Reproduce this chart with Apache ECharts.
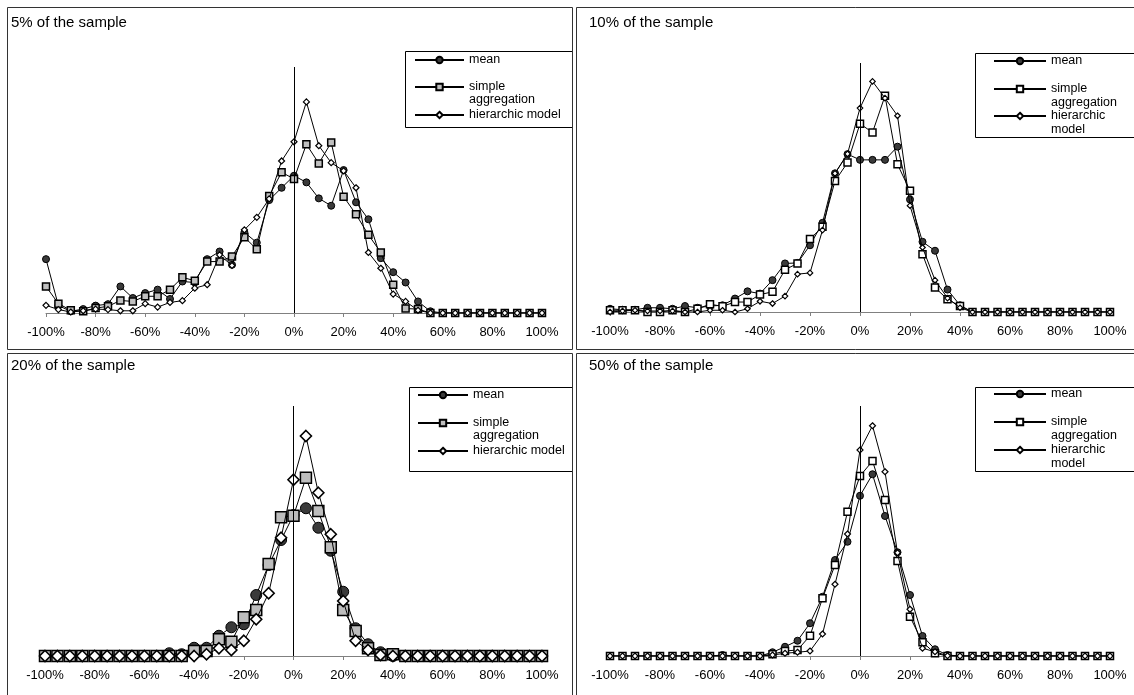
<!DOCTYPE html>
<html>
<head>
<meta charset="utf-8">
<script src="https://cdn.jsdelivr.net/npm/echarts@6/dist/echarts.min.js"></script>
<style>
html,body{margin:0;padding:0;background:#fff;}
#c{width:1134px;height:695px;}
</style>
</head>
<body>
<div id="c"></div>
<script>
// ---------- DATA ----------
const categories = ['-100%','-95%','-90%','-85%','-80%','-75%','-70%','-65%','-60%','-55%','-50%','-45%','-40%','-35%','-30%','-25%','-20%','-15%','-10%','-5%','0%','5%','10%','15%','20%','25%','30%','35%','40%','45%','50%','55%','60%','65%','70%','75%','80%','85%','90%','95%','100%'];

const panelTitles = ['5% of the sample','10% of the sample','20% of the sample','50% of the sample'];

// 5% of the sample
const mean5   = [21.9,3.0,0.7,1.6,3.0,3.6,10.8,6.1,8.1,9.5,5.7,12.8,12.4,21.9,25.0,19.6,32.8,28.6,45.9,50.9,55.8,53.1,46.6,43.6,58.1,45.0,38.1,22.3,16.6,12.4,4.7,0.7,0,0,0,0,0,0,0,0,0];
const simple5 = [10.8,3.8,1.1,0.7,2.0,2.7,5.1,4.7,6.8,6.8,9.5,14.5,13.1,20.9,20.9,23.0,30.8,25.9,47.6,57.2,54.5,68.6,60.8,69.3,47.3,40.1,31.8,24.6,11.5,1.8,1.6,0,0,0,0,0,0,0,0,0,0];
const hier5   = [3.1,1.4,0.4,0.9,1.6,1.4,0.9,0.9,3.8,2.4,4.3,5.0,10.1,11.5,23.6,19.3,33.8,38.9,46.4,61.8,69.6,85.8,68.0,61.1,57.8,50.9,24.6,18.2,7.7,4.7,1.1,0,0,0,0,0,0,0,0,0,0];

// 10% of the sample
const mean10   = [1.3,0.9,0.9,1.7,1.7,1.3,2.4,1.7,2.4,2.7,5.4,8.3,7.4,12.8,19.5,19.7,26.8,35.8,55.7,63.4,61.1,61.1,61.1,66.4,45.2,28.2,24.6,9.0,2.7,0,0,0,0,0,0,0,0,0,0,0,0];
const simple10 = [0.7,0.7,0.7,0,0,0.7,0,1.3,3.1,2.3,4.0,4.0,7.0,8.1,17.0,19.5,29.3,34.2,52.6,60.0,75.6,72.1,86.8,59.3,48.7,23.2,9.8,5.1,2.4,0,0,0,0,0,0,0,0,0,0,0,0];
const hier10   = [0,0.4,0.7,0.4,0.4,0.4,0,0,0.7,0.7,0,1.3,4.3,3.4,6.4,15.2,15.7,32.9,55.7,63.5,81.9,92.6,85.9,78.8,42.7,25.9,12.8,5.6,1.7,0,0,0,0,0,0,0,0,0,0,0,0];

// 20% of the sample
const mean20   = [0,0,0,0,0,0,0,0,0,0,1.1,0.7,3.3,3.3,8.1,11.5,12.7,24.4,36.4,46.4,56.4,59.1,51.3,42.1,25.7,11.1,4.7,1.5,0,0,0,0,0,0,0,0,0,0,0,0,0];
const simple20 = [0,0,0,0,0,0,0,0,0,0,0,0,2.0,2.0,6.7,5.7,15.5,18.4,36.8,55.5,56.1,71.3,58.0,43.5,18.4,10.0,3.1,0.4,0.7,0,0,0,0,0,0,0,0,0,0,0,0];
const hier20   = [0,0,0,0,0,0,0,0,0,0,0,0,0,0.7,3.1,2.4,6.1,14.7,25.1,47.3,70.5,88.0,65.3,48.7,22.0,6.1,2.4,0.4,0,0,0,0,0,0,0,0,0,0,0,0,0];

// 50% of the sample
const mean50   = [0,0,0,0,0,0,0,0,0,0.4,0,0,0,1.5,3.7,6.1,13.1,23.7,38.4,45.7,64.1,72.7,56.0,41.5,24.4,8.0,2.7,0.4,0,0,0,0,0,0,0,0,0,0,0,0,0];
const simple50 = [0,0,0,0,0,0,0,0,0,0,0,0,0,0.7,2.0,2.4,8.1,23.1,36.4,57.7,72.0,78.0,62.4,38.0,15.7,5.5,1.1,0,0,0,0,0,0,0,0,0,0,0,0,0,0];
const hier50   = [0,0,0,0,0,0,0,0,0,0,0,0,0,0.4,1.1,1.5,2.0,8.8,28.7,48.8,82.4,92.1,73.7,41.3,18.7,3.1,1.7,0.1,0,0,0,0,0,0,0,0,0,0,0,0,0];

const panelData = [
  [mean5, simple5, hier5],
  [mean10, simple10, hier10],
  [mean20, simple20, hier20],
  [mean50, simple50, hier50]
];

// ---------- LAYOUT / STYLE ----------
const FONT = 'Liberation Sans, Arial, sans-serif';
const grids = [
  {left: 46,  top: 67,  width: 496, height: 246},
  {left: 610, top: 63,  width: 500, height: 249},
  {left: 45,  top: 406, width: 497, height: 250},
  {left: 610, top: 406, width: 500, height: 250}
];
const titlePos = [[11, 15], [589, 15], [11, 358], [589, 358]];

// marker styles per panel: [mean, simple, hier]
const markerStyles = [
  [{s:'circle',size:7,fill:'#3a3a3a',bw:1}, {s:'rect',size:7,fill:'#c0c0c0',bw:1.5}, {s:'diamond',size:6,fill:'#ffffff',bw:1.2}],
  [{s:'circle',size:7,fill:'#3a3a3a',bw:1}, {s:'rect',size:7,fill:'#ffffff',bw:1.5}, {s:'diamond',size:5.5,fill:'#ffffff',bw:1.2}],
  [{s:'circle',size:11,fill:'#3a3a3a',bw:1}, {s:'rect',size:11,fill:'#bdbdbd',bw:1.5}, {s:'diamond',size:11,fill:'#ffffff',bw:1.6}],
  [{s:'circle',size:7,fill:'#3a3a3a',bw:1}, {s:'rect',size:7,fill:'#ffffff',bw:1.5}, {s:'diamond',size:6,fill:'#ffffff',bw:1.2}]
];

// legend boxes [x,y,w,h]
const legendBoxes = [[405,51,167,76],[975,53,170,84],[409,387,163,84],[975,387,170,84]];
// legend item config per panel: iconLeft, itemWidth, lineHeight, centers [mean, simple, hier], hier text
const legendCfg = [
  {x:414, w:49, L:13, c:[60,87,115], hier:'hierarchic model', hierLines:1},
  {x:993, w:52, L:14, c:[61,89,116], hier:'\nhierarchic\nmodel', hierLines:3},
  {x:417, w:50, L:13, c:[395,423,451], hier:'hierarchic model', hierLines:1},
  {x:993, w:52, L:14, c:[394,422,450], hier:'\nhierarchic\nmodel', hierLines:3}
];

const option = {
  animation: false,
  backgroundColor: '#ffffff',
  title: [], grid: [], xAxis: [], yAxis: [], series: [], legend: [], graphic: []
};

for (let p = 0; p < 4; p++) {
  option.title.push({
    text: panelTitles[p], left: titlePos[p][0], top: titlePos[p][1], padding: 0,
    textStyle: {fontFamily: FONT, fontSize: 15, fontWeight: 'normal', color: '#000'}
  });
  option.grid.push(Object.assign({outerBoundsMode: 'none', containLabel: false}, grids[p]));
  option.xAxis.push({
    type: 'category', gridIndex: p, data: categories, boundaryGap: false,
    axisLine: {show: true, lineStyle: {color: '#808080', width: 1}},
    axisTick: {show: true, interval: 3, length: 4, lineStyle: {color: '#808080'}},
    axisLabel: {interval: 3, margin: 13, fontFamily: FONT, fontSize: 13, color: '#000'},
    splitLine: {show: false}
  });
  option.yAxis.push({
    type: 'value', gridIndex: p, min: 0, max: 100,
    axisLine: {show: false}, axisTick: {show: false}, axisLabel: {show: false}, splitLine: {show: false}
  });
  const names = ['p' + p + '_mean', 'p' + p + '_simple', 'p' + p + '_hier'];
  for (let k = 0; k < 3; k++) {
    const ms = markerStyles[p][k];
    const s = {
      type: 'line', name: names[k], xAxisIndex: p, yAxisIndex: p,
      data: panelData[p][k],
      symbol: ms.s, symbolSize: ms.size, showAllSymbol: true,
      lineStyle: {color: '#000', width: 1},
      itemStyle: {color: ms.fill, borderColor: '#000', borderWidth: ms.bw},
      emphasis: {disabled: true}, z: 2 + k
    };
    if (k === 0) {
      s.markLine = {
        silent: true, symbol: ['none', 'none'], label: {show: false},
        lineStyle: {color: '#000', width: 1, type: 'solid'},
        data: [{xAxis: '0%'}]
      };
    }
    option.series.push(s);
  }
  // legend
  const lc = legendCfg[p];
  const texts = ['mean', '\nsimple\naggregation', lc.hier];
  const lines = [1, 3, lc.hierLines];
  for (let k = 0; k < 3; k++) {
    const h = lines[k] * lc.L;
    option.legend.push({
      data: [names[k]], left: lc.x, top: lc.c[k] - h / 2, padding: 0,
      itemWidth: lc.w, itemHeight: 8, selectedMode: false, formatter: texts[k],
      textStyle: {fontFamily: FONT, fontSize: 12.5, color: '#000', lineHeight: lc.L},
      z: 6
    });
  }
  const b = legendBoxes[p];
  option.graphic.push({
    type: 'rect', z: 5, silent: true,
    shape: {x: b[0] + 0.5, y: b[1] + 0.5, width: b[2], height: b[3]},
    style: {fill: '#fff', stroke: '#000', lineWidth: 1}
  });
}
// panel frames
const frames = [[7,7,565,342],[576,7,580,342],[7,353,565,360],[576,353,580,360]];
frames.forEach(f => option.graphic.push({
  type: 'rect', z: 10, silent: true,
  shape: {x: f[0] + 0.5, y: f[1] + 0.5, width: f[2], height: f[3]},
  style: {fill: 'none', stroke: '#333', lineWidth: 1}
}));

const chart = echarts.init(document.getElementById('c'), null, {renderer: 'canvas'});
chart.setOption(option);
</script>
</body>
</html>
